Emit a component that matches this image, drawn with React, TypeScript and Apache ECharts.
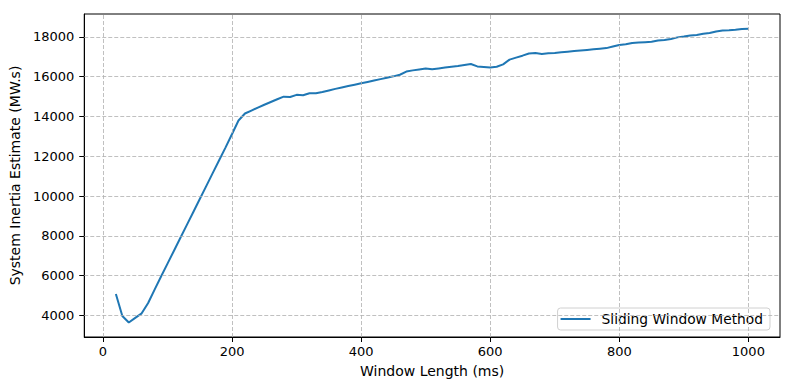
import React, { useEffect, useRef } from "react";
import * as echarts from "echarts";

const windowLengths = [
  20, 30, 40, 50, 60, 70, 80, 90, 100, 110, 120, 130, 140, 150, 160, 170, 180, 190, 200,
  210, 220, 230, 240, 250, 260, 270, 280, 290, 300, 310, 320, 330, 340, 350, 360, 370, 380,
  390, 400, 410, 420, 430, 440, 450, 460, 470, 480, 490, 500, 510, 520, 530, 540, 550, 560,
  570, 580, 590, 600, 610, 620, 630, 640, 650, 660, 670, 680, 690, 700, 710, 720, 730, 740,
  750, 760, 770, 780, 790, 800, 810, 820, 830, 840, 850, 860, 870, 880, 890, 900, 910, 920,
  930, 940, 950, 960, 970, 980, 990, 1000,
];

const inertiaEstimates = [
  5070, 3970, 3640, 3870, 4100, 4620, 5290, 5950, 6600, 7250, 7900, 8550, 9200, 9850, 10500,
  11150, 11800, 12450, 13120, 13800, 14150, 14300, 14450, 14590, 14730, 14870, 15000, 14980,
  15090, 15070, 15170, 15170, 15230, 15310, 15390, 15460, 15530, 15600, 15670, 15740, 15810,
  15880, 15950, 16020, 16100, 16260, 16320, 16370, 16420, 16380, 16420, 16460, 16500, 16540,
  16590, 16640, 16520, 16490, 16460, 16500, 16620, 16860, 16960, 17060, 17170, 17190, 17150,
  17180, 17200, 17230, 17260, 17290, 17320, 17350, 17380, 17410, 17440, 17520, 17600, 17630,
  17700, 17720, 17740, 17760, 17820, 17850, 17900, 17980, 18020, 18080, 18100, 18160, 18200,
  18280, 18330, 18340, 18360, 18400, 18420,
];

const xTicks = [0, 200, 400, 600, 800, 1000];
const yTicks = [4000, 6000, 8000, 10000, 12000, 14000, 16000, 18000];

const seriesName = "Sliding Window Method";
const xName = "Window Length (ms)";
const yName = "System Inertia Estimate (MW.s)";

export default function App() {
  const ref = useRef<HTMLDivElement>(null);
  useEffect(() => {
    if (!ref.current) return;
    const chart = echarts.init(ref.current, null, { renderer: "svg" });
    const font = "DejaVu Sans";
    const fmt = (v: number) => String(v);
    chart.setOption({
      animation: false,
      backgroundColor: "#ffffff",
      grid: {
        left: 84,
        right: 10,
        top: 14,
        bottom: 53,
        show: true,
        borderColor: "#000000",
        borderWidth: 1,
        backgroundColor: "transparent",
        z: 3,
      },
      legend: {
        right: 20,
        bottom: 60,
        orient: "vertical",
        backgroundColor: "#ffffff",
        borderColor: "#d0d0d0",
        borderWidth: 1,
        borderRadius: 3,
        padding: [4, 7, 4, 3],
        itemWidth: 30,
        itemHeight: 2,
        icon: "rect",
        itemGap: 8,
        textStyle: {
          fontFamily: font,
          fontSize: 13.8,
          color: "#000000",
          padding: [0, 0, 0, 6],
        },
        data: [seriesName],
      },
      xAxis: {
        type: "value",
        min: -29,
        max: 1049,
        name: xName,
        nameLocation: "middle",
        nameGap: 27,
        nameTextStyle: { fontFamily: font, fontSize: 14, color: "#000000" },
        axisLine: { show: true, onZero: false, lineStyle: { color: "#000000", width: 1 } },
        axisTick: { show: true, length: 5, lineStyle: { color: "#000000" }, customValues: xTicks },
        axisLabel: {
          fontFamily: font,
          fontSize: 13,
          color: "#000000",
          margin: 8,
          customValues: xTicks,
          formatter: fmt,
        },
        splitLine: { show: false },
      },
      yAxis: {
        type: "value",
        min: 2910,
        max: 19156,
        name: yName,
        nameLocation: "middle",
        nameGap: 60,
        nameTextStyle: { fontFamily: font, fontSize: 14, color: "#000000" },
        axisLine: { show: true, onZero: false, lineStyle: { color: "#000000", width: 1 } },
        axisTick: { show: true, length: 5, lineStyle: { color: "#000000" }, customValues: yTicks },
        axisLabel: {
          fontFamily: font,
          fontSize: 13,
          color: "#000000",
          margin: 10,
          customValues: yTicks,
          formatter: fmt,
        },
        splitLine: { show: false },
      },
      series: [
        {
          name: "grid",
          type: "line",
          data: [],
          z: 1,
          silent: true,
          markLine: {
            silent: true,
            symbol: "none",
            label: { show: false },
            lineStyle: { color: "#b0b0b0", type: [4, 2], width: 0.8 },
            emphasis: { disabled: true },
            data: [
              ...xTicks.map((v) => ({ xAxis: v })),
              ...yTicks.map((v) => ({ yAxis: v })),
            ],
          },
        },
        {
          name: seriesName,
          type: "line",
          z: 2,
          data: windowLengths.map((x, i) => [x, inertiaEstimates[i]]),
          showSymbol: false,
          symbol: "none",
          lineStyle: { color: "#1f77b4", width: 2 },
          itemStyle: { color: "#1f77b4" },
        },
      ],
    });
    return () => chart.dispose();
  }, []);
  return <div ref={ref} style={{ width: 790, height: 390, position: "absolute", left: 0, top: 0 }} />;
}
